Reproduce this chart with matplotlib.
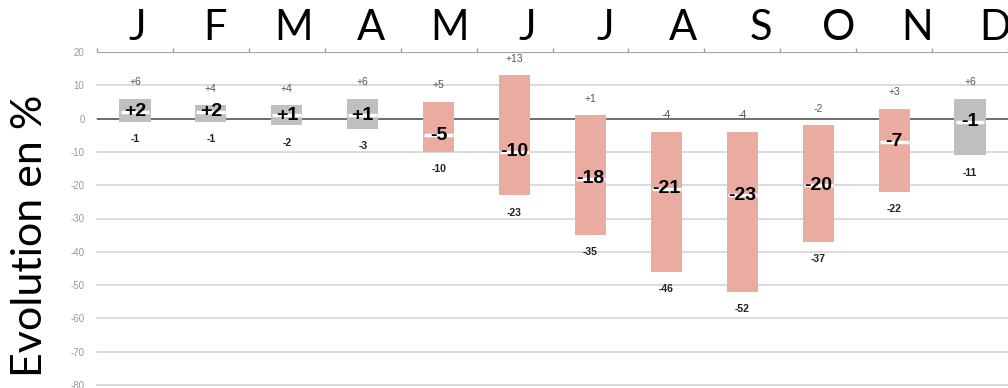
import numpy as np
import matplotlib.pyplot as plt

months = ['J', 'F', 'M', 'A', 'M', 'J', 'J', 'A', 'S', 'O', 'N', 'D']
high = [6, 4, 4, 6, 5, 13, 1, -4, -4, -2, 3, 6]
low = [-1, -1, -2, -3, -10, -23, -35, -46, -52, -37, -22, -11]
mid = [2, 2, 1, 1, -5, -10, -18, -21, -23, -20, -7, -1]
# months in the salmon colour (the others are grey)
hot = [False, False, False, False, True, True, True, True, True, True, True, False]

GREY = '#bfbfbf'
SALMON = '#eaaca1'

fig = plt.figure(figsize=(10.08, 3.88), dpi=100)
ax = fig.add_axes([97 / 1008, 3 / 388, 911 / 1008, 333 / 388])

x = np.arange(len(months))
colors = [SALMON if h else GREY for h in hot]
ax.bar(x, np.array(high) - np.array(low), bottom=low, width=0.41,
       color=colors, zorder=3)

for i in range(len(months)):
    # white dash behind the middle value
    ax.plot([x[i] - 0.19, x[i] + 0.19], [mid[i], mid[i]], color='white',
            lw=2.5, zorder=4, solid_capstyle='butt')
    ax.text(x[i], mid[i], f'{mid[i]:+d}', ha='center', va='center',
            fontsize=14, fontweight='bold', family='Liberation Sans', zorder=5)
    ax.text(x[i], high[i] + 5, f'{high[i]:+d}', ha='center', va='center',
            fontsize=7.5, color='#555555', family='Liberation Sans')
    ax.text(x[i], low[i] - 5.2, f'{low[i]:+d}', ha='center', va='center',
            fontsize=7.5, fontweight='bold', color='#222222', family='Liberation Sans')

ax.set_xlim(-0.5, 11.5)
ax.set_ylim(-80, 20)
ax.set_yticks(np.arange(-80, 21, 10))
ax.set_yticklabels([str(v) for v in range(-80, 21, 10)], color='#999999',
                   fontsize=7, family='Liberation Sans')
ax.tick_params(axis='y', length=0, pad=9)
ax.set_xticks(np.arange(-0.5, 12, 1))
ax.set_xticklabels([])
ax.tick_params(axis='x', top=True, bottom=False, direction='out', length=3,
               color='#999999', width=1)
for v in range(-80, 20, 10):
    ax.axhline(v, color='#d9d9d9', lw=1.3, zorder=1, clip_on=False)
ax.axhline(0, color='#6f6f6f', lw=1.4, zorder=2)
ax.axhline(20, color='#a6a6a6', lw=1.6, zorder=2)

for s in ax.spines.values():
    s.set_visible(False)

for i, m in enumerate(months):
    fig.text((137 + 78 * i) / 1008, 1 - 28 / 388, m, ha='center', va='center',
             fontsize=30, family='Lato')

fig.text(30 / 1008, 1 - 236 / 388, 'Evolution en %', rotation=90,
         ha='center', va='center', fontsize=31, family='Lato')

fig.savefig('out.png', dpi=100)
